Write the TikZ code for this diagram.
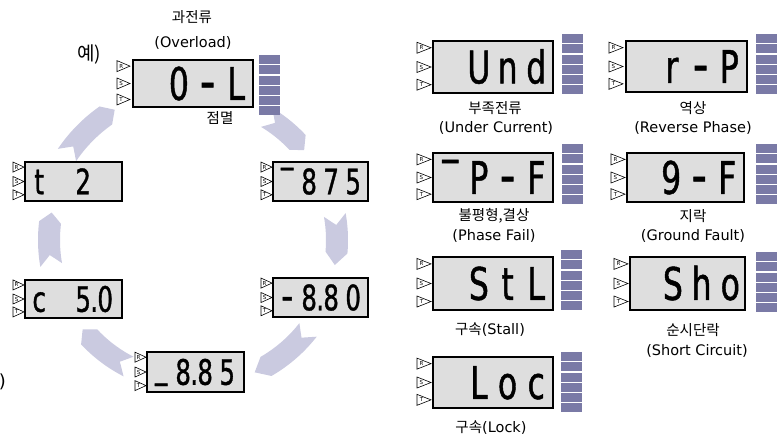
\documentclass[tikz,border=0pt]{standalone}
\usepackage{fontspec}
\setmainfont{DejaVu Sans}
\newfontfamily\kr{Noto Sans CJK KR}
\newfontfamily\lcdfont[FakeStretch=0.7, FakeBold=1]{DejaVu Sans}
\newlength\slotw
\newcommand\seg[1]{\makebox[\slotw][c]{#1}}
\newcommand\dpt{\makebox[0pt][c]{.}}
\newcommand\dash{\scalebox{1.35}[1.2]{-}}
\definecolor{lcdgray}{RGB}{222,222,222}
\definecolor{barcol}{RGB}{122,122,166}
\definecolor{arrcol}{RGB}{202,202,224}
\tikzset{
  lcdbox/.style={draw=black, line width=1.6pt, fill=lcdgray, inner sep=0pt, outer sep=0pt, anchor=north west},
  lcdtxt/.style={inner sep=0pt, anchor=base west, text=black},
  barbox/.style={fill=barcol, draw=none},
  tripath/.style={draw=black, line width=0.6pt, fill=white, line join=miter},
  trilbl/.style={inner sep=0pt, font=\fontsize{5.5}{5.5}\selectfont},
  lbl/.style={inner sep=0pt, font=\fontsize{14.5}{16}\selectfont},
  carr/.style={fill=arrcol, draw=none},
}
% LCD: name, x, y, w, h, font size, slot width, first slot centre offset, content
\newcommand\lcd[9]{%
  \node[lcdbox, minimum width=#4, minimum height=#5] (#1) at (#2,#3) {};
  \node[lcdtxt, font={\lcdfont\fontsize{#6}{#6}\selectfont}] (#1-t) at ({#2+#8-#7/2},{#3+#5/2+0.3645*#6}) {\setlength{\slotw}{#7pt}#9};
}
% triangle: name, x, yc, w, h, letter
\newcommand\tri[6]{%
  \draw[tripath] (#2,{#3-#5/2}) -- ({#2+#4},{#3}) -- (#2,{#3+#5/2}) -- cycle;
  \node[trilbl] (#1) at ({#2+#4*0.32},{#3}) {#6};
}
% R S T triangles: prefix, x, box top, box h, w, h
\newcommand\rst[6]{%
  \tri{#1R}{#2}{#3+0.13*#4}{#5}{#6}{R}
  \tri{#1S}{#2}{#3+0.5*#4}{#5}{#6}{S}
  \tri{#1T}{#2}{#3+0.84*#4}{#5}{#6}{T}
}
\newcommand\bars[2]{\foreach \i in {0,...,5}{\fill[barbox] (#1,{#2+\i*10.25}) rectangle ++(21,9.1);}}
% curved arrow: R, tail angle, head base angle, tip depth, notch depth, half width
\newcommand\carrow[6]{%
  \fill[carr] plot[domain=#2:#3, samples=18] ({193+(#1+#6)*cos(\x)},{240-(#1+#6)*sin(\x)})
    -- ({193+#1*cos(#3-#4)},{240-#1*sin(#3-#4)})
    -- plot[domain=#3:#2, samples=18] ({193+(#1-#6)*cos(\x)},{240-(#1-#6)*sin(\x)})
    -- ({193+#1*cos(#2-#5)},{240-#1*sin(#2-#5)}) -- cycle;
}
\begin{document}
\begin{tikzpicture}[x=1pt,y=-1pt]
\useasboundingbox (0,0) rectangle (783,440);
% cycle arrows
\carrow{152}{146}{125}{4}{4}{11}
\carrow{143}{59}{43}{4}{4}{11}
\carrow{144}{10}{-5}{5}{4}{11}
\carrow{146}{-38}{-60}{5}{4}{11}
\carrow{142}{243}{223}{4}{4}{11}
\carrow{144}{190}{173}{4}{4}{11}
% cycle displays
\rst{tOL}{117}{60}{47}{13}{11}
\lcd{dOL}{133}{60}{120}{47}{45}{28.7}{17}{\seg{}\seg{0}\seg{\dash}\seg{L}}
\bars{259}{55}
\rst{tT2}{13}{162}{39}{11}{10}
\lcd{dT2}{25}{162}{97}{39}{35}{22}{14}{\seg{t}\seg{}\seg{2}\seg{}}
\rst{tC5}{13}{280}{38}{11}{10}
\lcd{dC5}{25}{280}{97}{38}{35}{22}{14}{\seg{c}\seg{}\seg{5}\dpt\seg{0}}
\rst{t875}{261}{162}{39}{11}{10}
\lcd{d875}{273}{162}{95}{39}{35}{22}{14}{\seg{‾}\seg{8}\seg{7}\seg{5}}
\rst{t880}{261}{278}{39}{11}{10}
\lcd{d880}{273}{278}{95}{39}{35}{22}{14}{\seg{\dash}\seg{8}\dpt\seg{8}\seg{0}}
\rst{t885}{135}{352}{40}{11}{10}
\lcd{d885}{147}{352}{97}{40}{35}{22}{14}{\seg{\raisebox{0.2em}{\textunderscore}}\seg{8}\dpt\seg{8}\seg{5}}
% fault displays
\rst{tUnd}{417}{41}{52}{14}{11}
\lcd{dUnd}{433}{41}{120}{52}{45}{28.7}{17}{\seg{}\seg{U}\seg{n}\seg{d}}
\bars{562}{34}
\rst{tRP}{609}{41}{51}{14}{11}
\lcd{dRP}{626}{41}{121}{51}{45}{28.7}{17}{\seg{}\seg{r}\seg{\dash}\seg{P}}
\bars{756}{34}
\rst{tPF}{417}{153}{49}{14}{11}
\lcd{dPF}{433}{153}{120}{49}{45}{28.7}{17}{\seg{‾}\seg{P}\seg{\dash}\seg{F}}
\bars{562}{144}
\rst{t9F}{611}{153}{49}{14}{11}
\lcd{d9F}{627}{153}{117}{49}{45}{28}{16}{\seg{}\seg{9}\seg{\dash}\seg{F}}
\bars{756}{144}
\rst{tStL}{417}{257}{53}{14}{11}
\lcd{dStL}{433}{257}{120}{53}{45}{28.7}{17}{\seg{}\seg{S}\seg{t}\seg{L}}
\bars{561}{250}
\rst{tSho}{614}{257}{53}{14}{11}
\lcd{dSho}{630}{257}{115}{53}{45}{28.7}{14}{\seg{}\seg{S}\seg{h}\seg{o}}
\bars{756}{252}
\rst{tLoc}{417}{357}{51}{14}{11}
\lcd{dLoc}{433}{357}{120}{51}{45}{28.7}{17}{\seg{}\seg{L}\seg{o}\seg{c}}
\bars{561}{352}
% labels
\node[lbl] (lOC) at (192,17) {\kr 과전류};
\node[lbl] (lOL) at (193,43) {(Overload)};
\node[lbl, font={\kr\fontsize{19}{19}\selectfont}] (lEx) at (89,55) {예)};
\node[lbl] (lBlink) at (220,118) {\kr 점멸};
\node[lbl, anchor=east, font={\fontsize{18}{18}\selectfont}] (lEdge) at (6,382) {)};
\node[lbl] (lUnd1) at (495,108) {\kr 부족전류};
\node[lbl] (lUnd2) at (496,128) {(Under Current)};
\node[lbl] (lRP1) at (693,108) {\kr 역상};
\node[lbl] (lRP2) at (693,128) {(Reverse Phase)};
\node[lbl] (lPF1) at (494,216) {\kr 불평형,결상};
\node[lbl] (lPF2) at (494,236) {(Phase Fail)};
\node[lbl] (l9F1) at (693,216) {\kr 지락};
\node[lbl] (l9F2) at (693,236) {(Ground Fault)};
\node[lbl] (lStL) at (490,330) {{\kr 구속}(Stall)};
\node[lbl] (lSho1) at (693,330) {\kr 순시단락};
\node[lbl] (lSho2) at (697,351) {(Short Circuit)};
\node[lbl] (lLoc) at (491,428) {{\kr 구속}(Lock)};
\end{tikzpicture}
\end{document}
